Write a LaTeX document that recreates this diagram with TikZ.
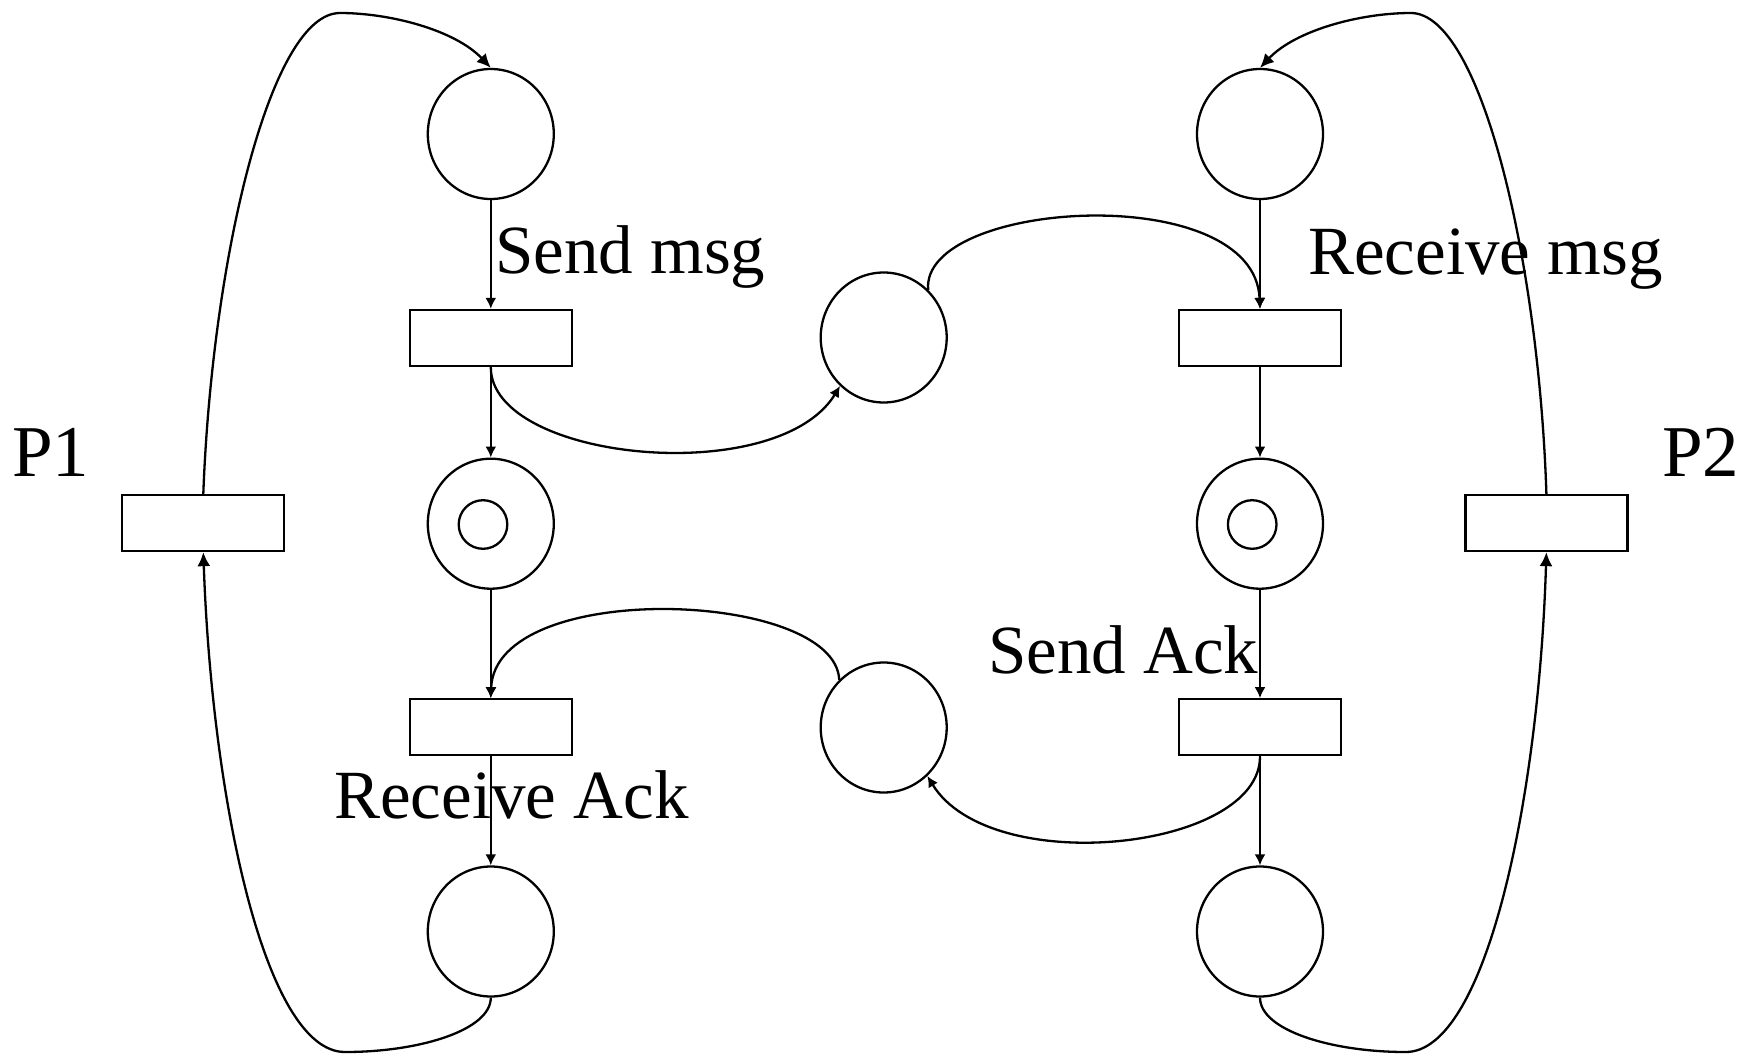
\documentclass[tikz,border=0pt]{standalone}
\usepackage{fontspec}
\setmainfont{Liberation Serif}
\usetikzlibrary{shapes.geometric,arrows.meta}

\begin{document}
\begin{tikzpicture}[x=1pt,y=-1pt,line width=2.3pt,
  place/.style={draw,ellipse,minimum width=126pt,minimum height=130pt,inner sep=0pt},
  trans/.style={draw,rectangle,minimum width=162pt,minimum height=56pt,inner sep=0pt},
  tokn/.style={draw,circle,minimum size=48.6pt,inner sep=0pt},
  lbl/.style={anchor=base west,inner sep=0pt,font=\fontsize{69}{76}\selectfont},
  plbl/.style={anchor=base west,inner sep=0pt,font=\fontsize{73}{80}\selectfont},
  arc/.style={-{Latex[length=11pt,width=11pt]}},
  cyc/.style={-{Latex[length=14pt,width=13pt]}}]
\useasboundingbox (0,0) rectangle (1745,1054);

% process P1
\node[place] (pa1) at (490.8,134) {};
\node[trans] (t1)  at (490.8,338) {};
\node[place] (pa2) at (490.8,523.7) {};
\node[tokn]  (ka)  at (483,524.5) {};
\node[trans] (t2)  at (490.8,727.3) {};
\node[place] (pa3) at (490.8,931.5) {};
\node[trans] (tp1) at (203.3,523) {};

% process P2
\node[place] (pb1) at (1260,134) {};
\node[trans] (t3)  at (1260,338) {};
\node[place] (pb2) at (1260,523.7) {};
\node[tokn]  (kb)  at (1252.2,524.5) {};
\node[trans] (t4)  at (1260,727.3) {};
\node[place] (pb3) at (1260,931.5) {};
\node[trans] (tp2) at (1546.4,523) {};

% channels
\node[place] (m1) at (883.7,337.5) {};
\node[place] (m2) at (883.7,727.5) {};

% labels
\node[lbl] (lsm) at (494,273.3) {Send msg};
\node[lbl] (lrm) at (1307,274.9) {Receive msg};
\node[lbl] (lsa) at (987,673.3) {Send Ack};
\node[lbl] (lra) at (333,818.3) {Receive Ack};
\node[plbl] (lp1) at (11,476) {P1};
\node[plbl] (lp2) at (1661,476) {P2};

% straight arcs
\draw[arc] (pa1) -- (t1);
\draw[arc] (t1) -- (pa2);
\draw[arc] (pa2) -- (t2);
\draw[arc] (t2) -- (pa3);
\draw[arc] (pb1) -- (t3);
\draw[arc] (t3) -- (pb2);
\draw[arc] (pb2) -- (t4);
\draw[arc] (t4) -- (pb3);

% arcs through the channels
\draw[arc] (t1.south) .. controls +(0,94) and +(-63,103) .. (m1.228);
\draw[arc] (m1.47) .. controls +(-8,-90) and +(-5,-130) .. (t3.north);
\draw[arc] (m2.133) .. controls +(-4,-90) and +(4,-120) .. (t2.north);
\draw[arc] (t4.south) .. controls +(0,94) and +(63,103) .. (m2.312);

% cycle arcs of P1
\coordinate (topL) at (340,13);
\coordinate (botL) at (345,1052);
\draw[cyc] (tp1.north) .. controls (212,260) and (270,13) .. (topL)
  .. controls (390,13) and (455,30) .. (pa1.north);
\draw[cyc] (pa3.south) .. controls (490.8,1030) and (420,1052) .. (botL)
  .. controls (265,1052) and (212,800) .. (tp1.south);

% cycle arcs of P2
\coordinate (topR) at (1410.8,13);
\coordinate (botR) at (1405.8,1052);
\draw[cyc] (tp2.north) .. controls (1538.8,260) and (1480.8,13) .. (topR)
  .. controls (1360.8,13) and (1295.8,30) .. (pb1.north);
\draw[cyc] (pb3.south) .. controls (1260,1030) and (1330.8,1052) .. (botR)
  .. controls (1485.8,1052) and (1538.8,800) .. (tp2.south);
\end{tikzpicture}
\end{document}
